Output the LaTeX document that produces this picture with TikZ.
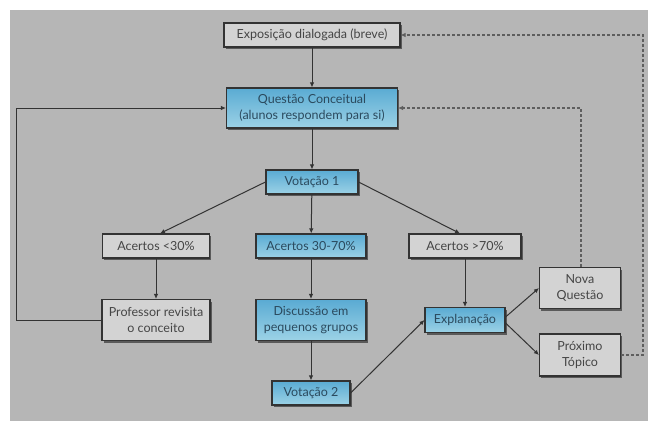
\documentclass[tikz,border=0pt]{standalone}
\usepackage{fontspec}
\setmainfont{Lato}
\usetikzlibrary{arrows.meta,shadows}
\definecolor{bg}{HTML}{B6B6B6}
\definecolor{edge}{HTML}{333333}
\definecolor{graybox}{HTML}{D3D3D3}
\definecolor{bluetop}{HTML}{5AABD3}
\definecolor{bluebot}{HTML}{9CD2E6}
\definecolor{graytext}{HTML}{454545}
\definecolor{bluetext}{HTML}{2B4A5E}
\definecolor{dashc}{HTML}{5E5E5E}
\tikzset{
  box/.style={draw=edge, line width=1.1pt, inner sep=1pt, align=center,
    font=\fontsize{12.5}{16}\selectfont,
    drop shadow={shadow xshift=1.5pt, shadow yshift=-2pt, fill=black, opacity=0.5}},
  gbox/.style={box, fill=graybox, text=graytext},
  bbox/.style={box, top color=bluetop, bottom color=bluebot, text=bluetext},
  conn/.style={draw=edge, line width=1pt, -{Latex[length=5pt,width=4.5pt]}},
  dconn/.style={draw=dashc, line width=1.2pt, dash pattern=on 3pt off 2pt, -{Latex[length=5pt,width=4.5pt]}},
}
\begin{document}
\begin{tikzpicture}[x=1pt,y=-1pt]
\useasboundingbox (0,0) rectangle (648,421);
\fill[white] (0,0) rectangle (648,421);
\fill[bg] (10,10) rectangle (648,421);

\node[gbox, minimum width=176pt, minimum height=24pt] (expo) at (312,35) {Exposição dialogada (breve)};
\node[bbox, minimum width=171pt, minimum height=40pt] (quest) at (312,108) {Questão Conceitual\\(alunos respondem para si)};
\node[bbox, minimum width=92pt, minimum height=24pt] (vot1) at (312,182) {Votação 1};
\node[gbox, minimum width=107pt, minimum height=24pt] (a30) at (156,246) {Acertos <30\%};
\node[bbox, minimum width=110pt, minimum height=24pt] (a3070) at (311,246) {Acertos 30-70\%};
\node[gbox, minimum width=112pt, minimum height=24pt] (a70) at (465,246) {Acertos >70\%};
\node[gbox, minimum width=108pt, minimum height=41pt] (prof) at (156,320) {Professor revisita\\o conceito};
\node[bbox, minimum width=110pt, minimum height=41pt] (disc) at (311,320) {Discussão em\\pequenos grupos};
\node[bbox, minimum width=78pt, minimum height=24pt] (vot2) at (311,393) {Votação 2};
\node[bbox, minimum width=80pt, minimum height=25pt] (expl) at (465,320) {Explanação};
\node[gbox, minimum width=81pt, minimum height=41pt] (nova) at (580,288) {Nova\\Questão};
\node[gbox, minimum width=81pt, minimum height=42pt] (prox) at (580,355) {Próximo\\Tópico};

\coordinate (lb) at (16,320);
\coordinate (lt) at (16,108);
\coordinate (nq) at (581,108);
\coordinate (rt) at (643,35);
\coordinate (rb) at (643,355);

\draw[conn] (expo) -- (quest);
\draw[conn] (quest) -- (vot1);
\draw[conn] (vot1.west) -- (a30.north -| 160,0);
\draw[conn] (vot1) -- (a3070);
\draw[conn] (vot1.east) -- (a70.north -| 460,0);
\draw[conn] (a30) -- (prof);
\draw[conn] (a3070) -- (disc);
\draw[conn] (disc) -- (vot2);
\draw[conn] (a70) -- (expl);
\draw[conn] (vot2.east) -- (expl.west);
\draw[conn] ([yshift=3pt]expl.east) -- (nova.west);
\draw[conn] ([yshift=-3pt]expl.east) -- (prox.west);
\draw[conn] (prof.west) -- (lb) -- (lt) -- (quest.west);
\draw[dconn] (nova.north -| nq) -- (nq) -- (quest.east);
\draw[dconn] (prox.east) -- (rb) -- (rt) -- (expo.east);
\end{tikzpicture}
\end{document}
